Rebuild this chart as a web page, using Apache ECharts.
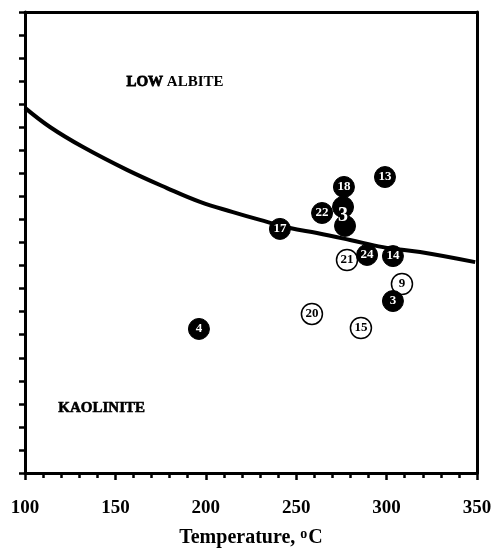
<!DOCTYPE html>
<html>
<head>
<meta charset="utf-8">
<script src="https://cdn.jsdelivr.net/npm/echarts@6/dist/echarts.min.js"></script>
<style>
  html, body { margin: 0; padding: 0; background: #fff; }
  #chart { width: 503px; height: 548px; }
</style>
</head>
<body>
<div id="chart"></div>
<script>
// boundary curve
var curveT = [100, 113.8, 132.1, 156.4, 178.5, 196.8, 215, 230, 246.6, 261.5, 279.8, 298, 318.5, 349];
var curveY = [15.84, 15.01, 14.14, 13.15, 12.36, 11.76, 11.32, 10.98, 10.63, 10.41, 10.11, 9.8, 9.59, 9.15];

// filled samples
var filledT = [241, 276.4, 299.1, 264.3, 275.9, 277, 289.2, 303.5, 303.5, 196.2];
var filledY = [10.59, 12.41, 12.84, 11.28, 11.54, 10.72, 9.46, 9.41, 7.46, 6.25];
var filledLabels = ['17', '18', '13', '22', '', '3', '24', '14', '3', '4'];

// open samples
var openT = [278.1, 308.5, 258.7, 285.8];
var openY = [9.24, 8.2, 6.9, 6.29];
var openLabels = ['21', '9', '20', '15'];

var xTicks = [100, 150, 200, 250, 300, 350];

var serif = 'Liberation Serif';

function pairs(xs, ys, labels) {
  var out = [];
  for (var i = 0; i < xs.length; i++) {
    out.push({ value: [xs[i], ys[i]], name: labels ? labels[i] : '' });
  }
  return out;
}

var filledData = pairs(filledT, filledY, filledLabels);
// the big "3" printed over the overlapping pair
filledData[5].label = { fontSize: 20, offset: [-2, -10] };

var chart = echarts.init(document.getElementById('chart'));

var option = {
  animation: false,
  backgroundColor: '#fff',
  grid: { left: 25, right: 26, top: 12, bottom: 75, outerBoundsMode: 'none', containLabel: false },
  xAxis: [{
    type: 'value',
    min: 100,
    max: 350,
    interval: 50,
    axisLine: { onZero: false, lineStyle: { color: '#000', width: 3 } },
    axisTick: { length: 7, lineStyle: { color: '#000', width: 2.5 } },
    minorTick: { show: true, splitNumber: 5, length: 5, lineStyle: { color: '#000', width: 2.5 } },
    splitLine: { show: false },
    axisLabel: {
      margin: 26,
      color: '#000',
      fontFamily: serif,
      fontWeight: 'bold',
      fontSize: 19,
      formatter: function (v) { return xTicks.indexOf(v) >= 0 ? String(v) : ''; }
    },
    name: 'Temperature, {sup|o}C',
    nameLocation: 'middle',
    nameGap: 54,
    nameTextStyle: {
      color: '#000',
      fontFamily: serif,
      fontWeight: 'bold',
      fontSize: 20,
      rich: {
        sup: { fontFamily: serif, fontWeight: 'bold', fontSize: 14, verticalAlign: 'top', padding: [0, 1, 8, 0] }
      }
    }
  }, {
    type: 'value',
    position: 'top',
    min: 100,
    max: 350,
    axisLine: { show: true, onZero: false, lineStyle: { color: '#000', width: 3 } },
    axisTick: { show: false },
    axisLabel: { show: false },
    splitLine: { show: false }
  }],
  yAxis: [{
    type: 'value',
    min: 0,
    max: 20,
    interval: 1,
    axisLine: { show: true, onZero: false, lineStyle: { color: '#000', width: 3 } },
    axisTick: { show: true, length: 6, lineStyle: { color: '#000', width: 2.5 } },
    axisLabel: { show: false },
    splitLine: { show: false }
  }, {
    type: 'value',
    position: 'right',
    min: 0,
    max: 20,
    axisLine: { show: true, onZero: false, lineStyle: { color: '#000', width: 3 } },
    axisTick: { show: false },
    axisLabel: { show: false },
    splitLine: { show: false }
  }],
  series: [{
    type: 'line',
    smooth: 0.4,
    symbol: 'none',
    lineStyle: { color: '#000', width: 4 },
    data: curveT.map(function (t, i) { return [t, curveY[i]]; }),
    z: 2
  }, {
    type: 'scatter',
    symbol: 'circle',
    symbolSize: 21,
    itemStyle: { color: '#fff', borderColor: '#000', borderWidth: 1.5, opacity: 1 },
    label: {
      show: true,
      position: 'inside',
      formatter: '{b}',
      color: '#000',
      fontFamily: serif,
      fontWeight: 'bold',
      fontSize: 13
    },
    data: pairs(openT, openY, openLabels),
    z: 3
  }, {
    type: 'scatter',
    symbol: 'circle',
    symbolSize: 21,
    itemStyle: { color: '#000', borderColor: '#000', borderWidth: 1, opacity: 1 },
    label: {
      show: true,
      position: 'inside',
      formatter: '{b}',
      color: '#fff',
      fontFamily: serif,
      fontWeight: 'bold',
      fontSize: 13
    },
    data: filledData,
    z: 4
  }],
  graphic: [{
    type: 'text',
    left: 126,
    top: 74,
    style: {
      text: '{b|LOW} ALBITE',
      fill: '#000',
      font: 'bold 15px "Liberation Serif"',
      rich: {
        b: { fontFamily: serif, fontWeight: 'bold', fontSize: 15, stroke: '#000', lineWidth: 0.8 }
      }
    }
  }, {
    type: 'text',
    left: 58,
    top: 400,
    style: {
      text: 'KAOLINITE',
      fill: '#000',
      font: 'bold 15px "Liberation Serif"',
      stroke: '#000',
      lineWidth: 0.6
    }
  }]
};

chart.setOption(option);
</script>
</body>
</html>
